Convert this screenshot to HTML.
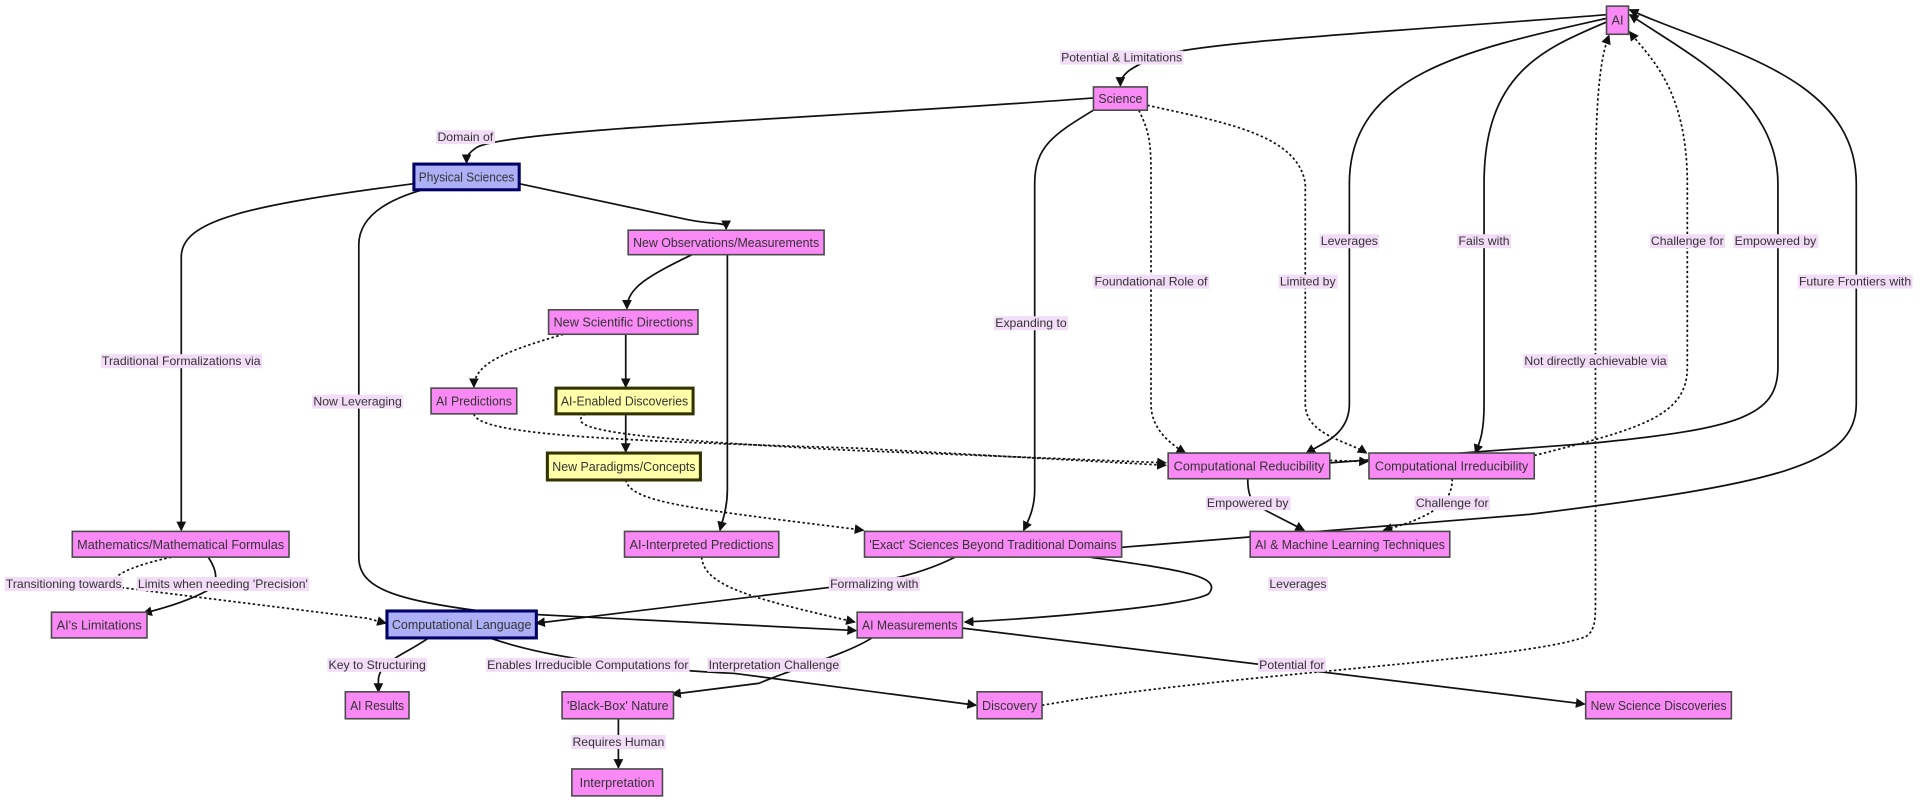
<!DOCTYPE html>
<html><head><meta charset="utf-8">
<style>
html,body{margin:0;padding:0;background:#fff;width:1920px;height:802px;overflow:hidden}
svg{display:block}
text{font-family:"Liberation Sans","DejaVu Sans",sans-serif;fill:#333}
.n{fill:#f98af5;stroke:#4a4a4a;stroke-width:1.3}
.b{fill:#adb0f7;stroke:#000066;stroke-width:2.5}
.y{fill:#ffffaa;stroke:#333300;stroke-width:2.5}
.e{fill:none;stroke:#111;stroke-width:1.4}
.d{fill:none;stroke:#111;stroke-width:1.4;stroke-dasharray:2 2}
.nt{font-size:10.4px;text-anchor:middle;dominant-baseline:central}
.lt{font-size:10px;text-anchor:middle;dominant-baseline:central}
</style></head><body>
<svg width="1920" height="802" viewBox="0 0 1568 655" xmlns="http://www.w3.org/2000/svg">
<defs>
<marker id="a" markerWidth="8" markerHeight="8" refX="7" refY="4" orient="auto" markerUnits="userSpaceOnUse">
<path d="M0,0 L8,4 L0,8 z" fill="#111"/></marker>
</defs>
<g id="edges">
<path class="e" marker-end="url(#a)" d="M1312,12 C1150,25 960,35 940,48 C925,55 915,60 915,70"/>
<path class="e" marker-end="url(#a)" d="M893,80 C700,95 420,105 390,120 C382,125 381,128 381,133"/>
<path class="e" marker-end="url(#a)" d="M338,150 C200,168 148,180 148,210 L148,433"/>
<path class="e" marker-end="url(#a)" d="M345,155 C310,165 293,180 293,200 L293,455 C293,480 320,490 400,500 L699,515"/>
<path class="e" marker-end="url(#a)" d="M424,150 L555,178 C585,185 593,180 593,187"/>
<path class="e" marker-end="url(#a)" d="M565,208 C530,225 512,235 512,252"/>
<path class="e" marker-end="url(#a)" d="M594,208 L594,400 C594,415 590,425 588,433"/>
<path class="d" marker-end="url(#a)" d="M460,273 C420,285 387,295 387,316"/>
<path class="e" marker-end="url(#a)" d="M511,273 L511,316"/>
<path class="e" marker-end="url(#a)" d="M511,338 L511,369"/>
<path class="d" marker-end="url(#a)" d="M387,338 C390,355 500,360 700,366 L952,380"/>
<path class="d" marker-end="url(#a)" d="M478,338 C460,350 500,358 700,368 L952,378"/>
<path class="d" marker-end="url(#a)" d="M511,392 C515,410 560,415 705,433"/>
<path class="e" marker-end="url(#a)" d="M893,90 C860,110 845,120 845,150 L845,400 C845,415 840,425 836,433"/>
<path class="d" marker-end="url(#a)" d="M930,90 C940,110 940,120 940,150 L940,330 C940,350 955,362 968,370"/>
<path class="d" marker-end="url(#a)" d="M937,86 C1000,100 1060,110 1066,150 L1066,330 C1066,355 1100,360 1116,370"/>
<path class="e" marker-end="url(#a)" d="M1312,15 C1200,40 1102,60 1102,150 L1102,330 C1102,355 1080,362 1067,370"/>
<path class="e" marker-end="url(#a)" d="M1312,18 C1260,40 1212,60 1212,150 L1212,330 C1212,355 1208,362 1205,370"/>
<path class="d" marker-end="url(#a)" d="M1253,372 C1340,350 1378,340 1378,300 L1378,150 C1378,70 1345,45 1331,26"/>
<path class="e" marker-end="url(#a)" d="M1086,378 L1300,362 C1420,350 1452,340 1452,300 L1452,150 C1452,80 1380,45 1331,12"/>
<path class="d" marker-end="url(#a)" d="M1086,376 L1117,377"/>
<path class="e" marker-end="url(#a)" d="M916,447 L1250,420 C1450,395 1516,380 1516,330 L1516,150 C1516,60 1400,40 1331,8"/>
<path class="d" marker-end="url(#a)" d="M851,576 C1000,550 1240,540 1295,520 C1303,515 1303,505 1303,490 L1303,150 C1303,60 1310,40 1314,29"/>
<path class="e" marker-end="url(#a)" d="M1019,391 C1019,400 1020,410 1030,415 L1065,433"/>
<path class="d" marker-end="url(#a)" d="M1186,391 C1186,405 1180,420 1130,433"/>
<path class="e" marker-end="url(#a)" d="M890,455 C960,465 1000,470 987,485 C970,495 850,505 788,508"/>
<path class="e" marker-end="url(#a)" d="M780,455 C750,470 720,475 700,477 L438,509"/>
<path class="d" marker-end="url(#a)" d="M573,455 C575,478 610,488 698,508"/>
<path class="e" marker-end="url(#a)" d="M170,455 C180,470 176,478 170,482 C155,490 140,495 117,501"/>
<path class="d" marker-end="url(#a)" d="M140,455 C95,465 85,475 100,480 L300,505 L315,509"/>
<path class="e" marker-end="url(#a)" d="M350,521 C330,535 310,540 309,555 L309,565"/>
<path class="e" marker-end="url(#a)" d="M400,521 C440,535 500,545 600,550 L797,576"/>
<path class="e" marker-end="url(#a)" d="M712,521 C690,535 650,545 620,558 L549,567"/>
<path class="e" marker-end="url(#a)" d="M786,513 L1294,575"/>
<path class="e" marker-end="url(#a)" d="M505,587 L505,627"/>
</g>
<g id="labels">
<text class="lt" x="916" y="47">Potential &amp; Limitations</text>
<text class="lt" x="380" y="112">Domain of</text>
<text class="lt" x="148" y="295">Traditional Formalizations via</text>
<text class="lt" x="292" y="328">Now Leveraging</text>
<text class="lt" x="842" y="264">Expanding to</text>
<text class="lt" x="940" y="230">Foundational Role of</text>
<text class="lt" x="1068" y="230">Limited by</text>
<text class="lt" x="1102" y="197">Leverages</text>
<text class="lt" x="1212" y="197">Fails with</text>
<text class="lt" x="1378" y="197">Challenge for</text>
<text class="lt" x="1450" y="197">Empowered by</text>
<text class="lt" x="1515" y="230">Future Frontiers with</text>
<text class="lt" x="1303" y="295">Not directly achievable via</text>
<text class="lt" x="1019" y="411">Empowered by</text>
<text class="lt" x="1186" y="411">Challenge for</text>
<text class="lt" x="1060" y="477">Leverages</text>
<text class="lt" x="714" y="477">Formalizing with</text>
<text class="lt" x="52" y="477">Transitioning towards</text>
<text class="lt" x="182" y="477">Limits when needing 'Precision'</text>
<text class="lt" x="308" y="543">Key to Structuring</text>
<text class="lt" x="480" y="543">Enables Irreducible Computations for</text>
<text class="lt" x="632" y="543">Interpretation Challenge</text>
<text class="lt" x="1055" y="543">Potential for</text>
<text class="lt" x="505" y="606">Requires Human</text>
</g>
<g id="nodes">
<rect class="n" x="1312" y="5" width="18" height="23"/><text class="nt" x="1321" y="16.5">AI</text>
<rect class="n" x="893" y="71" width="44" height="19"/><text class="nt" x="915" y="80.5">Science</text>
<rect class="b" x="338" y="134" width="86" height="21"/><text class="nt" x="381" y="144.5">Physical Sciences</text>
<rect class="n" x="513" y="188" width="160" height="20"/><text class="nt" x="593" y="198">New Observations/Measurements</text>
<rect class="n" x="448" y="253" width="122" height="20"/><text class="nt" x="509" y="263">New Scientific Directions</text>
<rect class="n" x="352" y="317" width="70" height="21"/><text class="nt" x="387" y="327.5">AI Predictions</text>
<rect class="y" x="454" y="317" width="112" height="21"/><text class="nt" x="510" y="327.5">AI-Enabled Discoveries</text>
<rect class="y" x="447" y="370" width="125" height="22"/><text class="nt" x="509.5" y="381">New Paradigms/Concepts</text>
<rect class="n" x="954" y="370" width="132" height="21"/><text class="nt" x="1020" y="380.5">Computational Reducibility</text>
<rect class="n" x="1118" y="370" width="135" height="21"/><text class="nt" x="1185.5" y="380.5">Computational Irreducibility</text>
<rect class="n" x="59" y="434" width="177" height="21"/><text class="nt" x="147.5" y="444.5">Mathematics/Mathematical Formulas</text>
<rect class="n" x="510" y="434" width="126" height="21"/><text class="nt" x="573" y="444.5">AI-Interpreted Predictions</text>
<rect class="n" x="706" y="434" width="210" height="21"/><text class="nt" x="811" y="444.5">'Exact' Sciences Beyond Traditional Domains</text>
<rect class="n" x="1021" y="434" width="163" height="21"/><text class="nt" x="1102.5" y="444.5">AI &amp; Machine Learning Techniques</text>
<rect class="n" x="42" y="500" width="78" height="21"/><text class="nt" x="81" y="510.5">AI's Limitations</text>
<rect class="b" x="316" y="499" width="122" height="22"/><text class="nt" x="377" y="510">Computational Language</text>
<rect class="n" x="700" y="500" width="86" height="21"/><text class="nt" x="743" y="510.5">AI Measurements</text>
<rect class="n" x="282" y="565" width="52" height="22"/><text class="nt" x="308" y="576">AI Results</text>
<rect class="n" x="459" y="565" width="91" height="22"/><text class="nt" x="504.5" y="576">'Black-Box' Nature</text>
<rect class="n" x="798" y="565" width="53" height="22"/><text class="nt" x="824.5" y="576">Discovery</text>
<rect class="n" x="1295" y="565" width="119" height="22"/><text class="nt" x="1354.5" y="576">New Science Discoveries</text>
<rect class="n" x="467" y="628" width="74" height="22"/><text class="nt" x="504" y="639">Interpretation</text>
</g>
</svg>
<script>
(function(){
  var ns="http://www.w3.org/2000/svg";
  document.querySelectorAll('#nodes rect').forEach(function(r){
    var t=r.nextElementSibling; if(!t)return;
    var w=parseFloat(r.getAttribute('width'))-8;
    var bb=t.getBBox();
    if(bb.width>w){t.setAttribute('textLength',w);t.setAttribute('lengthAdjust','spacingAndGlyphs');}
  });
  var g=document.getElementById('labels');
  Array.prototype.slice.call(g.querySelectorAll('text')).forEach(function(t){
    var bb=t.getBBox();
    var r=document.createElementNS(ns,'rect');
    r.setAttribute('x',bb.x-1);r.setAttribute('y',bb.y);
    r.setAttribute('width',bb.width+2);r.setAttribute('height',bb.height);
    r.setAttribute('fill','#f2dcf7');
    g.insertBefore(r,t);
  });
})();
</script>
</body></html>
